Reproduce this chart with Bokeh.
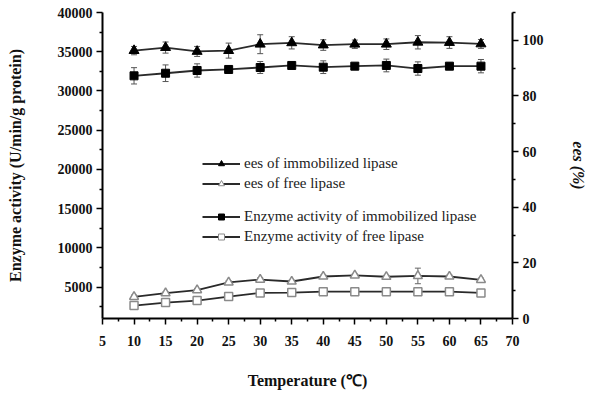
from bokeh.plotting import figure
from bokeh.models import (ColumnDataSource, LinearAxis, Range1d, FixedTicker, Whisker,
                          TeeHead, Legend, LegendItem)
from bokeh.embed import file_html
from bokeh.resources import INLINE

temperature = [10, 15, 20, 25, 30, 35, 40, 45, 50, 55, 60, 65]
ees_immobilized = [96.3, 97.4, 96.0, 96.3, 98.6, 99.1, 98.3, 98.6, 98.6, 99.3, 99.2, 98.7]
ees_immobilized_err = [1.5, 2.0, 1.8, 2.7, 3.4, 2.2, 1.9, 1.5, 1.9, 2.4, 2.1, 1.6]
ees_free = [7.8, 9.1, 10.2, 13.0, 14.0, 13.3, 15.1, 15.5, 15.0, 15.3, 15.1, 13.9]
ees_free_err = [0.6, 0.5, 0.6, 0.5, 0.6, 0.5, 0.5, 0.5, 0.5, 2.8, 0.5, 0.6]
activity_immobilized = [31930, 32260, 32610, 32740, 32990, 33250, 33030, 33160, 33250, 32860, 33160, 33160]
activity_immobilized_err = [1040, 1060, 850, 430, 760, 380, 810, 380, 810, 850, 430, 850]
activity_free = [2650, 3030, 3280, 3790, 4260, 4300, 4420, 4420, 4420, 4420, 4420, 4260]
activity_free_err = [150, 150, 150, 150, 150, 150, 150, 150, 150, 150, 150, 150]

x_ticks = [5, 10, 15, 20, 25, 30, 35, 40, 45, 50, 55, 60, 65, 70]
left_ticks = [5000, 10000, 15000, 20000, 25000, 30000, 35000, 40000]
right_ticks = [0, 20, 40, 60, 80, 100]

def src(y, e):
    return ColumnDataSource(dict(x=temperature, y=y,
                                 lo=[a - b for a, b in zip(y, e)],
                                 hi=[a + b for a, b in zip(y, e)]))

s_ei = src(ees_immobilized, ees_immobilized_err)
s_ef = src(ees_free, ees_free_err)
s_ai = src(activity_immobilized, activity_immobilized_err)
s_af = src(activity_free, activity_free_err)

SERIF = "Liberation Serif"

p = figure(frame_width=410, frame_height=306,
           x_range=Range1d(5, 70), y_range=Range1d(1000, 40000),
           output_backend="svg", toolbar_location=None,
           min_border_left=102, min_border_right=72,
           min_border_top=12, min_border_bottom=78)
p.extra_y_ranges = {"ees": Range1d(0, 110)}
p.outline_line_color = None
p.grid.visible = False
p.background_fill_color = "white"

raxis = LinearAxis(y_range_name="ees")
p.add_layout(raxis, "right")

p.xaxis.ticker = FixedTicker(ticks=x_ticks, minor_ticks=[t + 2.5 for t in x_ticks[:-1]])
p.yaxis.ticker = FixedTicker(ticks=left_ticks, minor_ticks=[t - 2500 for t in left_ticks])
raxis.ticker = FixedTicker(ticks=right_ticks, minor_ticks=[t + 10 for t in right_ticks])

for ax in [p.xaxis[0], p.yaxis[0], raxis]:
    ax.axis_line_width = 2
    ax.axis_line_color = "black"
    ax.major_tick_line_width = 1.5
    ax.minor_tick_line_width = 1.5
    ax.major_tick_out = 6
    ax.major_tick_in = 0
    ax.minor_tick_out = 3
    ax.minor_tick_in = 0
    ax.major_label_text_font = SERIF
    ax.major_label_text_font_style = "bold"
    ax.major_label_text_font_size = "14px"
    ax.major_label_text_color = "#111111"
    ax.axis_label_text_font = SERIF
    ax.axis_label_text_font_style = "bold"
    ax.axis_label_text_font_size = "16px"
    ax.axis_label_text_color = "#111111"
    ax.major_label_standoff = 4

p.xaxis.axis_label = "Temperature (\u2103)"
p.xaxis.major_label_standoff = 11
p.xaxis.axis_label_standoff = 23
p.yaxis.axis_label = "Enzyme activity (U/min/g protein)"
p.yaxis.axis_label_standoff = 31
raxis.axis_label = "ees (%)"
raxis.axis_label_text_font_style = "bold italic"
raxis.axis_label_standoff = 23

LINE = "#2a2a2a"
GRAY = "#8a8a8a"

p.line("x", "y", source=s_ei, y_range_name="ees", line_color=LINE, line_width=1.8)
p.line("x", "y", source=s_ef, y_range_name="ees", line_color=LINE, line_width=1.8)
p.line("x", "y", source=s_ai, line_color=LINE, line_width=1.8)
p.line("x", "y", source=s_af, line_color=LINE, line_width=1.8)

for s, rn, col in [(s_ei, "ees", "#555555"), (s_ef, "ees", "#666666"),
                   (s_ai, "default", "#555555"), (s_af, "default", "#777777")]:
    w = Whisker(source=s, base="x", upper="hi", lower="lo", y_range_name=rn,
                line_color=col, line_width=1,
                upper_head=TeeHead(size=6, line_color=col, line_width=1),
                lower_head=TeeHead(size=6, line_color=col, line_width=1))
    p.add_layout(w)

p.scatter("x", "y", source=s_ei, y_range_name="ees", marker="triangle",
          size=10, fill_color="black", line_color="black")
p.scatter("x", "y", source=s_ef, y_range_name="ees", marker="triangle",
          size=9, fill_color="white", line_color=GRAY, line_width=1.5)
p.scatter("x", "y", source=s_ai, marker="square",
          size=8, fill_color="black", line_color="black")
p.scatter("x", "y", source=s_af, marker="square",
          size=8, fill_color="white", line_color=GRAY, line_width=1.5)

# hidden legend proxies (same data) for the legend glyphs
def proxy(s, rn, marker, fill, line):
    ln = p.line("x", "y", source=s, y_range_name=rn, line_color=LINE, line_width=1.8,
                visible=False)
    mk = p.scatter("x", "y", source=s, y_range_name=rn, marker=marker, size=6,
                   fill_color=fill, line_color=line, line_width=1, visible=False)
    return [ln, mk]

def make_legend(items, loc):
    lg = Legend(items=items, location=loc, orientation="vertical",
                border_line_color=None, background_fill_alpha=0,
                inactive_fill_alpha=0,
                padding=0, margin=0, spacing=0,
                glyph_width=38, glyph_height=15, label_height=20,
                label_standoff=4,
                label_text_font=SERIF, label_text_font_size="15px",
                label_text_color="#222222")
    p.add_layout(lg)

make_legend([LegendItem(label="ees of immobilized lipase",
                        renderers=proxy(s_ei, "ees", "triangle", "black", "black")),
             LegendItem(label="ees of free lipase",
                        renderers=proxy(s_ef, "ees", "triangle", "white", GRAY))], (100, 125))
make_legend([LegendItem(label="Enzyme activity of immobilized lipase",
                        renderers=proxy(s_ai, "default", "square", "black", "black")),
             LegendItem(label="Enzyme activity of free lipase",
                        renderers=proxy(s_af, "default", "square", "white", GRAY))], (100, 72))

open("out.html", "w").write(file_html(p, INLINE))
